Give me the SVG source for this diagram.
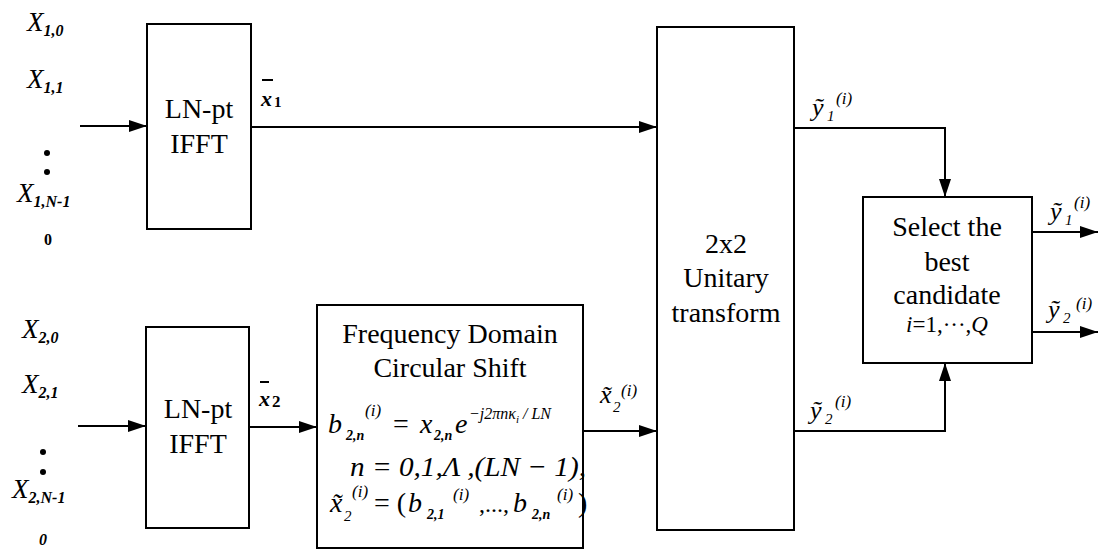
<svg xmlns="http://www.w3.org/2000/svg" width="1100" height="553" viewBox="0 0 1100 553">
<defs>
<marker id="ah" markerUnits="userSpaceOnUse" markerWidth="18" markerHeight="12" refX="18" refY="6" orient="auto">
<path d="M0,0 L18,6 L0,12 z" fill="#000"/>
</marker>
<style>
text{font-family:"Liberation Serif","Times New Roman",serif;fill:#000}
.box{fill:#fff;stroke:#000;stroke-width:2}
.lbl{font-size:28px}
.mid{text-anchor:middle}
.it{font-style:italic}
.X{font-size:27px;font-style:italic}
.sb{font-size:16px;font-style:italic;font-weight:bold}
.sm{font-size:15px;font-style:italic}
.sup{font-size:17px;font-style:italic}
.con{fill:none;stroke:#000;stroke-width:2;marker-end:url(#ah)}
</style>
</defs>
<rect width="1100" height="553" fill="#fff"/>

<g id="inputs1">
<text class="X" x="27" y="31">X<tspan class="sb" dy="5">1,0</tspan></text>
<text class="X" x="27" y="88">X<tspan class="sb" dy="5">1,1</tspan></text>
<circle cx="47" cy="153" r="3"/><circle cx="47" cy="172" r="3"/>
<text class="X" x="17" y="202">X<tspan class="sb" dy="5">1,N-1</tspan></text>
<text class="mid" x="48" y="245" font-size="16" font-weight="bold">0</text>
</g>

<g id="inputs2">
<text class="X" x="22" y="338">X<tspan class="sb" dy="5">2,0</tspan></text>
<text class="X" x="22" y="393">X<tspan class="sb" dy="5">2,1</tspan></text>
<circle cx="43" cy="452" r="3"/><circle cx="43" cy="472" r="3"/>
<text class="X" x="12" y="498">X<tspan class="sb" dy="5">2,N-1</tspan></text>
<text class="mid" x="43" y="545" font-size="16" font-weight="bold" font-style="italic">0</text>
</g>

<g id="ifft1">
<rect class="box" x="147" y="24" width="104" height="205"/>
<text class="lbl mid" x="199" y="118">LN-pt</text>
<text class="lbl mid" x="199" y="153">IFFT</text>
</g>

<g id="ifft2">
<rect class="box" x="146" y="327" width="103" height="201"/>
<text class="lbl mid" x="198" y="418">LN-pt</text>
<text class="lbl mid" x="198" y="453">IFFT</text>
</g>

<g id="shift">
<rect class="box" x="317" y="305" width="266" height="243"/>
<text class="lbl mid" x="450" y="343">Frequency Domain</text>
<text class="lbl mid" x="450" y="377">Circular Shift</text>
<text class="it" x="328" y="433" font-size="28">b<tspan x="346" dy="7" font-size="14" font-weight="bold">2,n</tspan><tspan x="365" dy="-24" font-size="17">(i)</tspan><tspan x="393" dy="17" font-style="normal">=</tspan><tspan x="420">x</tspan><tspan x="434" dy="7" font-size="14" font-weight="bold">2,n</tspan><tspan x="455" dy="-7">e</tspan><tspan x="469" dy="-14" font-size="16">−j2πnκ</tspan><tspan font-size="11" dy="4">i</tspan><tspan font-size="16" dy="-4"> / LN</tspan></text>
<text class="it" x="350" y="476" font-size="28" textLength="236" lengthAdjust="spacingAndGlyphs">n = 0,1,Λ ,(LN − 1),</text>
<text class="it" x="330" y="512" font-size="28">x̃<tspan x="344" dy="9" font-size="15">2</tspan><tspan x="352" dy="-24" font-size="17">(i)</tspan><tspan x="374" dy="15" font-style="normal">= (</tspan><tspan x="408">b</tspan><tspan x="427" dy="7" font-size="14" font-weight="bold">2,1</tspan><tspan x="453" dy="-19" font-size="17">(i)</tspan><tspan x="479" dy="12" font-size="24" font-style="normal">,...,</tspan><tspan x="513">b</tspan><tspan x="532" dy="7" font-size="14" font-weight="bold">2,n</tspan><tspan x="557" dy="-19" font-size="17">(i)</tspan><tspan x="578" dy="12" font-style="normal">)</tspan></text>
</g>

<g id="unitary">
<rect class="box" x="657" y="27" width="137" height="503"/>
<text class="lbl mid" x="726" y="253">2x2</text>
<text class="lbl mid" x="726" y="287">Unitary</text>
<text class="lbl mid" x="726" y="322">transform</text>
</g>

<g id="select">
<rect class="box" x="863" y="197" width="169" height="166"/>
<text class="lbl mid" x="947" y="236">Select the</text>
<text class="lbl mid" x="947" y="271">best</text>
<text class="lbl mid" x="947" y="304">candidate</text>
<text class="mid" x="947" y="332" font-size="23"><tspan font-style="italic">i</tspan>=1,···,<tspan font-style="italic">Q</tspan></text>
</g>

<g id="connectors">
<path class="con" d="M80,126 H147"/>
<path class="con" d="M251,127 H657"/>
<path class="con" d="M78,426 H146"/>
<path class="con" d="M249,427 H317"/>
<path class="con" d="M583,431 H657"/>
<path class="con" d="M794,128 H945 V197"/>
<path class="con" d="M794,431 H945 V363"/>
<path class="con" d="M1032,232 H1098"/>
<path class="con" d="M1032,332 H1098"/>
</g>

<g id="labels">
<line x1="262" y1="80" x2="273" y2="80" stroke="#000" stroke-width="2"/>
<text class="it" x="261" y="106" font-size="22" font-weight="bold">x<tspan font-style="normal" font-size="15" dx="2" dy="1">1</tspan></text>
<line x1="260" y1="382" x2="269" y2="382" stroke="#000" stroke-width="2"/>
<text class="it" x="259" y="406" font-size="22" font-weight="bold">x<tspan font-style="normal" font-size="17" dx="2" dy="1">2</tspan></text>

<text class="it" x="600" y="403" font-size="26">x̃<tspan x="613" dy="9" font-size="15">2</tspan><tspan x="621" dy="-16" font-size="17">(i)</tspan></text>
<text class="it" x="812" y="116" font-size="26">ỹ<tspan x="827" dy="5" font-size="15">1</tspan><tspan x="836" dy="-17" font-size="17">(i)</tspan></text>
<text class="it" x="810" y="419" font-size="26">ỹ<tspan x="825" dy="5" font-size="15">2</tspan><tspan x="835" dy="-17" font-size="17">(i)</tspan></text>
<text class="it" x="1050" y="220" font-size="26">ỹ<tspan x="1065" dy="5" font-size="15">1</tspan><tspan x="1074" dy="-17" font-size="17">(i)</tspan></text>
<text class="it" x="1048" y="318" font-size="26">ỹ<tspan x="1063" dy="5" font-size="15">2</tspan><tspan x="1076" dy="-14" font-size="17">(i)</tspan></text>
</g>
</svg>
